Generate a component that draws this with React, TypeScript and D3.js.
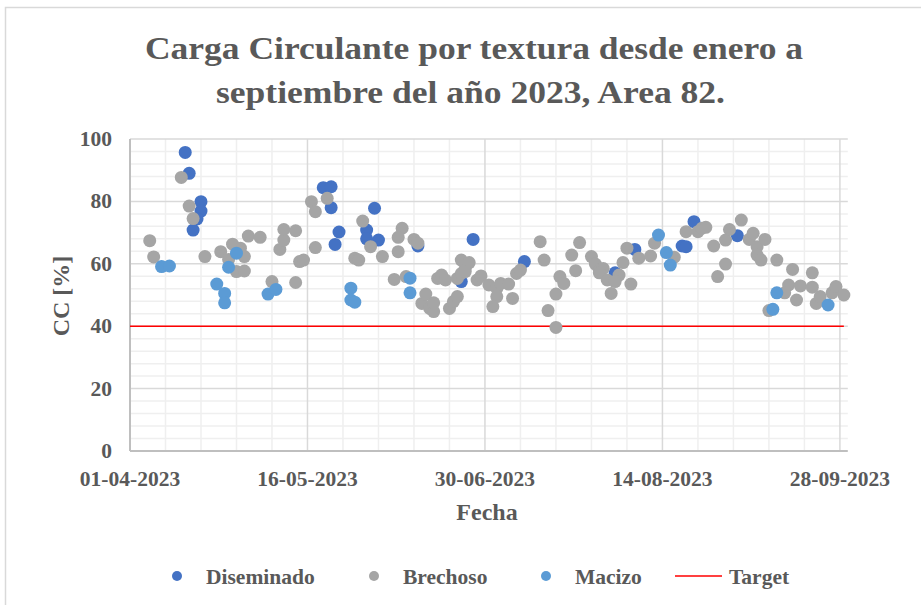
import React from "react";
import * as d3 from "d3";

const title1 = "Carga Circulante por textura desde enero a";
const title2 = "septiembre del año 2023, Area 82.";
const xTickLabels = ["01-04-2023", "16-05-2023", "30-06-2023", "14-08-2023", "28-09-2023"];
const yTicks = [0, 20, 40, 60, 80, 100];
const seriesNames = ["Diseminado", "Brechoso", "Macizo", "Target"];

const disDates = ["2023-04-15","2023-04-16","2023-04-19","2023-04-19","2023-04-18","2023-04-17","2023-05-20","2023-05-22","2023-05-22","2023-05-24","2023-05-23","2023-05-31","2023-05-31","2023-06-02","2023-06-03","2023-06-13","2023-06-24","2023-06-27","2023-07-10","2023-08-02","2023-08-07","2023-08-19","2023-08-20","2023-08-22","2023-09-02"];
const disValues = [95.7,89,79.9,76.9,74.4,70.8,84.4,84.7,78,70.2,66.2,70.8,68,77.8,67.6,65.7,54.3,67.8,60.7,57.1,64.6,65.7,65.5,73.5,69];

const breDates = ["2023-04-06","2023-04-07","2023-04-14","2023-04-16","2023-04-17","2023-04-20","2023-04-24","2023-04-27","2023-04-29","2023-04-30","2023-04-26","2023-04-28","2023-04-30","2023-05-01","2023-05-04","2023-05-07","2023-05-09","2023-05-10","2023-05-10","2023-05-13","2023-05-13","2023-05-14","2023-05-15","2023-05-17","2023-05-18","2023-05-18","2023-05-21","2023-05-28","2023-05-29","2023-05-30","2023-06-01","2023-06-04","2023-06-07","2023-06-08","2023-06-09","2023-06-08","2023-06-10","2023-06-12","2023-06-13","2023-06-14","2023-06-15","2023-06-16","2023-06-17","2023-06-17","2023-06-18","2023-06-19","2023-06-20","2023-06-21","2023-06-22","2023-06-23","2023-06-23","2023-06-24","2023-06-25","2023-06-24","2023-06-26","2023-06-25","2023-06-28","2023-06-29","2023-07-01","2023-07-03","2023-07-04","2023-07-03","2023-07-02","2023-07-06","2023-07-07","2023-07-08","2023-07-09","2023-07-14","2023-07-15","2023-07-16","2023-07-18","2023-07-18","2023-07-19","2023-07-20","2023-07-22","2023-07-24","2023-07-23","2023-07-27","2023-07-28","2023-07-29","2023-07-30","2023-07-29","2023-07-31","2023-08-01","2023-08-03","2023-08-02","2023-08-04","2023-08-06","2023-08-05","2023-08-08","2023-08-11","2023-08-12","2023-08-17","2023-08-20","2023-08-23","2023-08-24","2023-08-25","2023-08-27","2023-08-28","2023-08-30","2023-08-30","2023-08-31","2023-09-03","2023-09-05","2023-09-06","2023-09-07","2023-09-07","2023-09-08","2023-09-09","2023-09-12","2023-09-10","2023-09-16","2023-09-15","2023-09-14","2023-09-17","2023-09-18","2023-09-21","2023-09-21","2023-09-22","2023-09-23","2023-09-26","2023-09-27","2023-09-29"];
const breValues = [67.4,62.2,87.7,78.5,74.5,62.3,63.9,66.3,65,62.3,61.4,57.5,57.7,68.9,68.5,54.3,64.6,67.6,71,70.6,54,60.7,61.2,79.9,76.7,65.2,81,61.8,61.2,73.7,65.5,62.3,55,63.9,71.4,68.5,55.9,67.8,66.6,47.3,50.3,45.7,44.7,47.5,55.3,56.4,54.8,45.7,47.9,49.5,55.3,56.9,58.5,61.2,60.4,57.5,54.8,56.1,53.2,52.1,53.7,49.5,46.3,53.5,48.9,56.9,58,67.1,61.2,45,39.6,50.3,55.9,53.7,62.8,66.8,57.8,62.3,59.9,58,58.5,57.1,54.8,50.5,56.4,54.3,60.4,53.5,65,61.8,62.5,66.6,62.1,70.3,70.3,71.4,71.7,65.7,55.9,59.9,67.6,71,74,67.8,69.8,65.5,62.8,61.2,67.8,61.2,45,58.2,53.2,50.7,48.4,52.9,57.1,52.5,47.3,49.5,50.7,52.7,50];

const macDates = ["2023-04-09","2023-04-11","2023-04-23","2023-04-25","2023-04-25","2023-04-26","2023-04-28","2023-05-06","2023-05-08","2023-05-27","2023-05-27","2023-05-28","2023-06-11","2023-06-11","2023-08-13","2023-08-15","2023-08-16","2023-09-12","2023-09-11","2023-09-25"];
const macValues = [59.1,59.3,53.5,50.5,47.5,58.9,63.4,50.3,51.8,52.2,48.4,47.7,55.4,50.7,69.2,63.6,59.6,50.7,45.4,46.8];

const targetDates = ["2023-04-01", "2023-09-29"];
const targetValues = [40, 40];

const colors = ["#4472C4", "#A5A5A5", "#5B9BD5", "#FF0000"];

const parseIso = d3.utcParse("%Y-%m-%d");
const parseTick = d3.utcParse("%d-%m-%Y");
const fmtTick = d3.utcFormat("%d-%m-%Y");

export default function App() {
  const W = 921, H = 605;
  const left = 130, right = 847.8, top = 139, bottom = 451;
  const x = d3.scaleUtc().domain([parseIso("2023-04-01")!, parseIso("2023-09-30")!]).range([left, right]);
  const y = d3.scaleLinear().domain([0, 100]).range([bottom, top]);

  const majorX = xTickLabels.map((t) => parseTick(t)!);
  const minorX: Date[] = [];
  for (let i = 0; i <= 20; i++) {
    const d = d3.utcDay.offset(parseIso("2023-04-01")!, i * 9);
    if (x(d) <= right + 0.5 && i % 5 !== 0) minorX.push(d);
  }
  const minorY = d3.range(0, 101, 4).filter((v) => v % 20 !== 0);

  const mk = (dates: string[], vals: number[]) => dates.map((d, i) => ({ d: parseIso(d)!, v: vals[i] }));
  const series = [mk(disDates, disValues), mk(breDates, breValues), mk(macDates, macValues)];
  const target = mk(targetDates, targetValues);
  const line = d3.line<{ d: Date; v: number }>().x((p) => x(p.d)).y((p) => y(p.v));

  const font = "'Liberation Serif', 'Times New Roman', serif";
  const txt = "#595959";

  const legendItems = [
    { name: seriesNames[0], mx: 177, tx: 206, w: 112 },
    { name: seriesNames[1], mx: 374, tx: 403, w: 90 },
    { name: seriesNames[2], mx: 546, tx: 575, w: 69 },
  ];

  return (
    <svg width={W} height={H} style={{ position: "absolute", left: 0, top: 0, background: "#fff" }} fontFamily={font}>
      <rect x={5.5} y={7.5} width={930} height={620} fill="#fff" stroke="#d9d9d9" strokeWidth={1.5} />
      <text x={474} y={59} textAnchor="middle" fontSize={32} fontWeight="bold" fill={txt} textLength={658} lengthAdjust="spacingAndGlyphs">{title1}</text>
      <text x={470.5} y={103} textAnchor="middle" fontSize={32} fontWeight="bold" fill={txt} textLength={509} lengthAdjust="spacingAndGlyphs">{title2}</text>

      {minorY.map((v) => (
        <line key={"my" + v} x1={left} x2={right} y1={y(v)} y2={y(v)} stroke="#efefef" strokeWidth={1.5} />
      ))}
      {minorX.map((d, i) => (
        <line key={"mx" + i} x1={x(d)} x2={x(d)} y1={top} y2={bottom} stroke="#efefef" strokeWidth={1.5} />
      ))}
      {yTicks.filter((v) => v > 0).map((v) => (
        <line key={"gy" + v} x1={left} x2={right} y1={y(v)} y2={y(v)} stroke="#d9d9d9" strokeWidth={1.5} />
      ))}
      {majorX.slice(1).map((d, i) => (
        <line key={"gx" + i} x1={x(d)} x2={x(d)} y1={top} y2={bottom} stroke="#d9d9d9" strokeWidth={1.5} />
      ))}
      <line x1={left} x2={left} y1={top} y2={bottom} stroke="#bfbfbf" strokeWidth={2} />
      <line x1={left} x2={right} y1={bottom} y2={bottom} stroke="#bfbfbf" strokeWidth={2} />

      {yTicks.map((v) => (
        <text key={"yt" + v} x={112} y={y(v) + 7} textAnchor="end" fontSize={21.5} fontWeight="bold" fill={txt}>{v}</text>
      ))}
      {majorX.map((d, i) => (
        <text key={"xt" + i} x={x(d)} y={486} textAnchor="middle" fontSize={21.5} fontWeight="bold" fill={txt}>{fmtTick(d)}</text>
      ))}
      <text x={487} y={520} textAnchor="middle" fontSize={24} fontWeight="bold" fill={txt}>Fecha</text>
      <text transform="translate(69,296) rotate(-90)" textAnchor="middle" fontSize={24} fontWeight="bold" fill={txt}>CC [%]</text>

      <path d={line(target)!} fill="none" stroke={colors[3]} strokeWidth={1.5} />

      {series.map((s, si) => (
        <g key={"s" + si}>
          {s.map((p, i) => (
            <circle key={i} cx={x(p.d)} cy={y(p.v)} r={6.5} fill={colors[si]} />
          ))}
        </g>
      ))}

      {legendItems.map((it, i) => (
        <g key={"lg" + i}>
          <circle cx={it.mx} cy={576} r={5} fill={colors[i]} />
          <text x={it.tx} y={583.5} fontSize={21.5} fontWeight="bold" fill={txt}>{it.name}</text>
        </g>
      ))}
      <line x1={675} x2={722} y1={576} y2={576} stroke={colors[3]} strokeWidth={1.5} />
      <text x={729} y={583.5} fontSize={21.5} fontWeight="bold" fill={txt}>{seriesNames[3]}</text>
    </svg>
  );
}
